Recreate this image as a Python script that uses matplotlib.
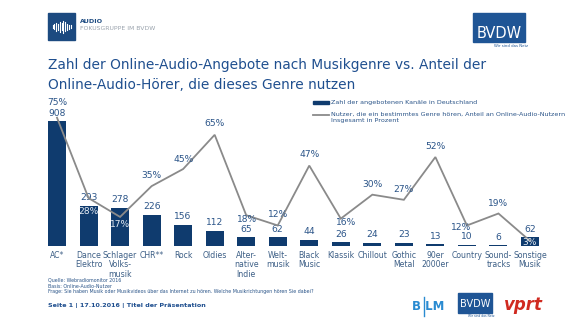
import matplotlib
matplotlib.use("Agg")
import matplotlib.pyplot as plt
from matplotlib.patches import Rectangle

# ---- data -------------------------------------------------------------
genres = ["AC*", "Dance\nElektro", "Schlager\nVolks-\nmusik", "CHR**", "Rock",
          "Oldies", "Alter-\nnative\nIndie", "Welt-\nmusik", "Black\nMusic",
          "Klassik", "Chillout", "Gothic\nMetal", "90er\n2000er", "Country",
          "Sound-\ntracks", "Sonstige\nMusik"]
channels = [908, 293, 278, 226, 156, 112, 65, 62, 44, 26, 24, 23, 13, 10, 6, 62]
listeners_pct = [75, 28, 17, 35, 45, 65, 18, 12, 47, 16, 30, 27, 52, 12, 19, 3]

bar_label = "Zahl der angebotenen Kanäle in Deutschland"
line_label = ("Nutzer, die ein bestimmtes Genre hören, Anteil an Online-Audio-Nutzern\n"
              "Insgesamt in Prozent")
title = ("Zahl der Online-Audio-Angebote nach Musikgenre vs. Anteil der\n"
         "Online-Audio-Hörer, die dieses Genre nutzen")

# ---- styling ----------------------------------------------------------
NAVY = "#0f3b6e"
BLUE_TXT = "#2a5488"
GREY_LINE = "#8a8a8a"
TICK_TXT = "#3d5f86"

W, H = 580, 326
fig = plt.figure(figsize=(W / 100, H / 100), dpi=100)
fig.patch.set_facecolor("white")

def fx(px):
    return px / W

def fy(py):
    return 1 - py / H

# plot area in pixels
left_px, right_px = 38.1, 548.9
top_px, bottom_px = 110, 246
ax = fig.add_axes([fx(left_px), fy(bottom_px), fx(right_px - left_px),
                   (bottom_px - top_px) / H])
ax2 = ax.twinx()

x = list(range(len(genres)))
ax.bar(x, channels, width=0.57, color=NAVY, zorder=1)
ax.set_xlim(-0.6, 15.6)
ax.set_ylim(0, 988)
ax2.set_ylim(0, 79.5)
ax2.plot(x, listeners_pct, color=GREY_LINE, lw=1.3, zorder=3,
         solid_joinstyle="miter")

for a in (ax, ax2):
    for s in a.spines.values():
        s.set_visible(False)
    a.set_yticks([])
ax.set_zorder(1)
ax2.set_zorder(2)
ax2.patch.set_visible(False)

ax.set_xticks(x)
ax.set_xticklabels(genres, fontsize=5.6, color=TICK_TXT, linespacing=1.07,
                   va="top")
ax.tick_params(axis="x", length=0, pad=3.5)

# value labels above bars
for xi, v in zip(x, channels):
    ax.annotate(f"{v}", (xi, v), xytext=(0, 8), textcoords="offset pixels",
                ha="center", va="center", fontsize=6.6, color=BLUE_TXT, zorder=5)

# percentage labels near line points (offsets in pixels)
pct_offsets = [(0, 15), (0, -13), (0, -8), (0, 11), (0, 10), (0, 11), (1, -4),
               (0, 11), (0, 11), (5, -4), (0, 10), (0, 10), (0, 11), (-6, -2),
               (0, 10), (0, -2)]
inside_bar = {1, 2, 15}
for i, (xi, p) in enumerate(zip(x, listeners_pct)):
    dx, dy = pct_offsets[i]
    col = "#e4ebf3" if i in inside_bar else BLUE_TXT
    ax2.annotate(f"{p}%", (xi, p), xytext=(dx, dy), textcoords="offset pixels",
                 ha="center", va="center", fontsize=6.6, color=col, zorder=6)

# ---- overlay for header, legend, footer -------------------------------
ov = fig.add_axes([0, 0, 1, 1], zorder=10)
ov.set_xlim(0, W)
ov.set_ylim(H, 0)
ov.axis("off")
ov.patch.set_visible(False)

# legend
ov.add_patch(Rectangle((313, 100.5), 16, 3.5, color=NAVY))
ov.text(331, 102.5, bar_label, fontsize=4.6, color=BLUE_TXT, va="center")
ov.plot([313, 329], [115, 115], color=GREY_LINE, lw=1.3)
ov.text(331, 111.5, line_label, fontsize=4.6, color=BLUE_TXT, va="top",
        linespacing=1.45)

# title
ov.text(48, 75, title, fontsize=9.9, color="#1f4f8f", va="center",
        linespacing=1.5)

# header logo: audio focus group
ov.add_patch(Rectangle((48, 13), 27, 27, color="#1c4a80"))
wave = [3, 5, 8, 6, 10, 7, 12, 9, 6, 4, 3]
for k, h in enumerate(wave):
    xx = 52.5 + k * 1.8
    ov.plot([xx, xx], [26.5 - h / 2, 26.5 + h / 2], color="white", lw=0.8)
ov.text(80, 21.5, "AUDIO", fontsize=4.6, color="#1c4a80", fontweight="bold",
        va="center")
ov.text(80, 28.5, "FOKUSGRUPPE IM BVDW", fontsize=4.4, color="#9aa3ad",
        va="center")

# header logo: BVDW
ov.add_patch(Rectangle((473, 13), 52, 29, color="#1f5595"))
ov.text(499, 33, "BVDW", fontsize=10.5, color="white", ha="center", va="center")
ov.text(528, 46, "Wir sind das Netz", fontsize=2.8, color="#1f5595",
        ha="right", va="center")

# footer texts
foot = ["Quelle: Webradiomonitor 2016",
        "Basis: Online-Audio-Nutzer",
        "Frage: Sie haben Musik oder Musikvideos über das Internet zu hören. "
        "Welche Musikrichtungen hören Sie dabei?"]
for k, t in enumerate(foot):
    ov.text(48, 280 + k * 6, t, fontsize=3.4, color=BLUE_TXT, va="center")
ov.text(48, 305.5, "Seite 1 | 17.10.2016 | Titel der Präsentation",
        fontsize=4.6, color="#1f4f8f", fontweight="bold", va="center")

# footer logos
ov.text(428, 306, "B LM", fontsize=8.5, color="#2a8bd1", fontweight="bold",
        ha="center", va="center")
ov.plot([423.5, 423.5], [297, 316], color="#2a8bd1", lw=1.0)
ov.add_patch(Rectangle((458, 293), 34, 20, color="#1f5595"))
ov.text(475, 304, "BVDW", fontsize=7, color="white", ha="center", va="center")
ov.text(494, 316, "Wir sind das Netz", fontsize=2.2, color="#1f5595",
        ha="right", va="center")
ov.text(523, 305, "vprt", fontsize=12, color="#d02a20", fontweight="bold",
        ha="center", va="center", style="italic")

fig.savefig("out.png", dpi=100, facecolor="white")
